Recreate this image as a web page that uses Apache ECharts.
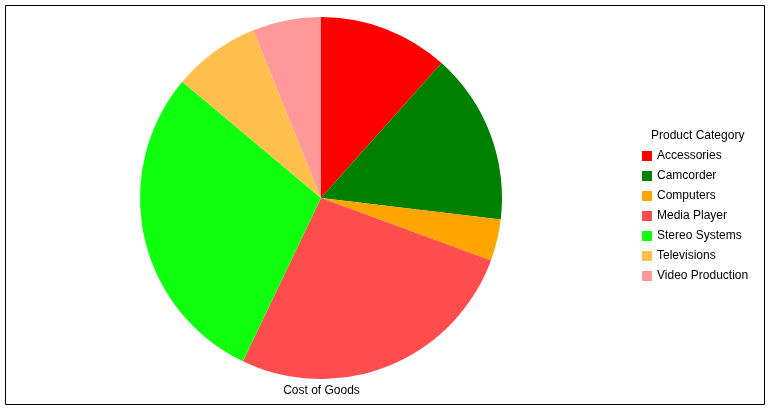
<!DOCTYPE html>
<html><head><meta charset="utf-8">
<script src="https://cdn.jsdelivr.net/npm/echarts@6/dist/echarts.min.js"></script>
<style>html,body{margin:0;padding:0;background:#fff}#c{width:771px;height:410px}</style>
</head><body><div id="c"></div>
<script>
const categories = ["Accessories","Camcorder","Computers","Media Player","Stereo Systems","Televisions","Video Production"];
const values = [11.6, 15.3, 3.7, 26.5, 29.0, 7.8, 6.1];
const colors = ["#FF0000","#008000","#FFA500","#FF4C4C","#0FFF0F","#FFBF4C","#FF9999"];
const chart = echarts.init(document.getElementById('c'), null, {renderer:'canvas'});
chart.setOption({
  animation:false,
  color: colors,
  graphic:[{type:'rect',shape:{x:5.5,y:5.5,width:759,height:399},style:{fill:'none',stroke:'#000',lineWidth:1},silent:true},
    {type:'text',x:651,y:136,style:{text:'Product Category',font:'12px "Liberation Sans", Arial',fill:'#000',textVerticalAlign:'middle'}},
    {type:'text',x:321.5,y:391,style:{text:'Cost of Goods',font:'12px "Liberation Sans", Arial',fill:'#000',textAlign:'center',textVerticalAlign:'middle'}}],
  legend:{orient:'vertical',left:642,top:150,padding:0,itemWidth:10,itemHeight:10,itemGap:8,icon:'rect',
    textStyle:{fontFamily:'"Liberation Sans", Arial',fontSize:12,color:'#000'},data:categories},
  series:[{type:'pie',center:[321,198],radius:181,startAngle:90,clockwise:true,label:{show:false},labelLine:{show:false},
    itemStyle:{borderWidth:0},emphasis:{disabled:true},
    data:categories.map((c,i)=>({name:c,value:values[i]}))}]
});
</script></body></html>
